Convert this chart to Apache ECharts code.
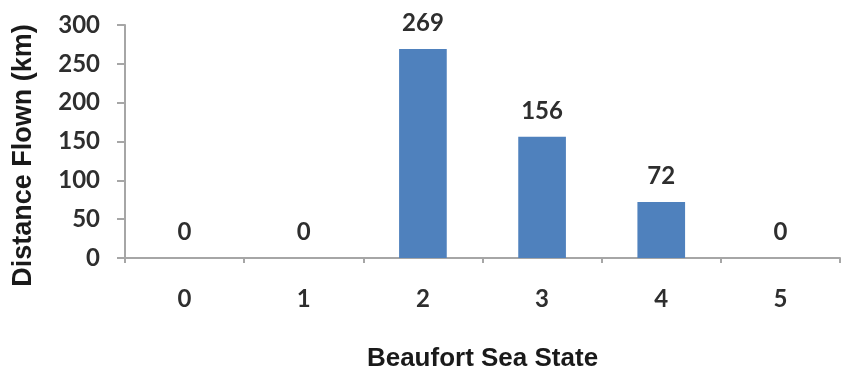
<!DOCTYPE html>
<html>
<head>
<meta charset="utf-8">
<script src="https://cdn.jsdelivr.net/npm/echarts@6/dist/echarts.min.js"></script>
<style>
html,body{margin:0;padding:0;background:#fff;}
#chart{width:841px;height:377px;}
</style>
</head>
<body>
<div id="chart"></div>
<script>
const categories = ['0', '1', '2', '3', '4', '5'];
const distances = [0, 0, 269, 156, 72, 0];
const xTitle = 'Beaufort Sea State';
const yTitle = 'Distance Flown (km)';

const chart = echarts.init(document.getElementById('chart'), null, {renderer: 'canvas'});
const axisGray = '#A6A6A6';
const tickFont = {fontFamily: 'Lato', fontWeight: 'bold', fontSize: 24, color: '#2e2e2e'};
chart.setOption({
  animation: false,
  backgroundColor: '#ffffff',
  grid: {left: 125, right: 1, top: 25, bottom: 105, containLabel: false},
  xAxis: {
    type: 'category',
    data: categories,
    boundaryGap: true,
    name: xTitle,
    nameLocation: 'middle',
    nameGap: 88,
    nameTextStyle: {fontFamily: 'Liberation Sans', fontWeight: 'bold', fontSize: 26, color: '#1a1a1a'},
    axisLine: {show: true, lineStyle: {color: axisGray, width: 2}},
    axisTick: {show: true, alignWithLabel: false, length: 5, lineStyle: {color: axisGray, width: 2}},
    axisLabel: Object.assign({margin: 29}, tickFont),
    splitLine: {show: false}
  },
  yAxis: {
    type: 'value',
    min: 0,
    max: 300,
    interval: 50,
    name: yTitle,
    nameLocation: 'middle',
    nameGap: 88,
    nameRotate: 90,
    nameTextStyle: {fontFamily: 'Liberation Sans', fontWeight: 'bold', fontSize: 27, color: '#1a1a1a', padding: [0, 28, 0, 0]},
    axisLine: {show: true, lineStyle: {color: axisGray, width: 2}},
    axisTick: {show: true, length: 8, lineStyle: {color: axisGray, width: 2}},
    axisLabel: Object.assign({margin: 25}, tickFont),
    splitLine: {show: false}
  },
  series: [{
    type: 'bar',
    data: distances,
    barWidth: '40%',
    itemStyle: {color: '#4F81BD'},
    label: Object.assign({show: true, position: 'top', distance: 14}, tickFont)
  }]
});
</script>
</body>
</html>
